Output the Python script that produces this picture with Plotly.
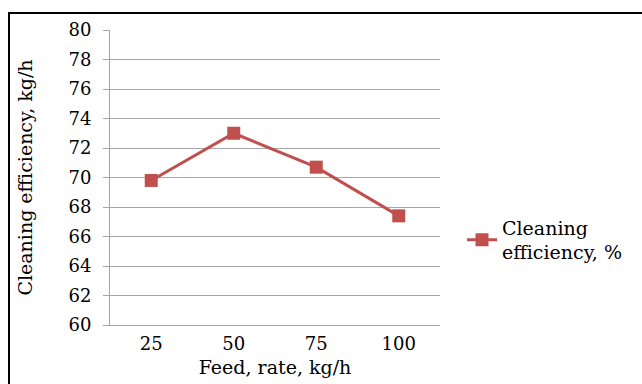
import plotly.graph_objects as go

feed_rates = ["25", "50", "75", "100"]
efficiency = [69.8, 73.0, 70.7, 67.4]
y_ticks = [60, 62, 64, 66, 68, 70, 72, 74, 76, 78, 80]

font_family = "DejaVu Serif, serif"
red = "#C0504D"
grid = "#A6A6A6"
fs_tick = 18
fs_title = 19
fs_leg = 19

fig = go.Figure()
fig.add_trace(go.Scatter(
    x=feed_rates, y=efficiency, mode="lines+markers",
    name="Cleaning<br>efficiency, %",
    line=dict(color=red, width=3),
    marker=dict(symbol="square", size=13, color=red),
))

L, R, T, B = 110, 202, 30, 59
W, H = 642, 384
pw, ph = W - L - R, H - T - B

def px(x):
    return (x - L) / pw

def py(y):
    return (H - B - y) / ph

fig.add_shape(type="rect", xref="paper", yref="paper",
              x0=px(9), x1=px(700), y0=py(450), y1=py(13),
              line=dict(color="black", width=2), fillcolor="rgba(0,0,0,0)", layer="below")

fig.update_layout(
    width=W, height=H,
    margin=dict(l=L, r=R, t=T, b=B, autoexpand=False),
    paper_bgcolor="white", plot_bgcolor="white",
    font=dict(family=font_family, size=fs_tick, color="black"),
    showlegend=True,
    legend=dict(x=px(462), y=py(240), xanchor="left", yanchor="middle",
                font=dict(family=font_family, size=fs_leg, color="black"),
                bgcolor="rgba(0,0,0,0)", itemwidth=30),
    xaxis=dict(
        type="category", categoryorder="array", categoryarray=feed_rates,
        showgrid=False, showline=True, linecolor=grid, linewidth=1,
        ticks="", tickfont=dict(family=font_family, size=fs_tick, color="black"),
        ticklabelstandoff=2,
        title=dict(text="Feed, rate, kg/h",
                   font=dict(family=font_family, size=fs_title, color="black"), standoff=8),
        range=[-0.5, 3.5], zeroline=False,
    ),
    yaxis=dict(
        range=[60, 80], tickvals=y_ticks, showgrid=True, gridcolor=grid, gridwidth=1,
        showline=True, linecolor=grid, linewidth=1, ticks="outside", ticklen=6,
        tickcolor=grid, tickfont=dict(family=font_family, size=fs_tick, color="black"),
        ticklabelstandoff=8, zeroline=False,
        title=dict(text="Cleaning efficiency, kg/h",
                   font=dict(family=font_family, size=fs_title, color="black"), standoff=30),
    ),
)

fig.write_html("out.html")
